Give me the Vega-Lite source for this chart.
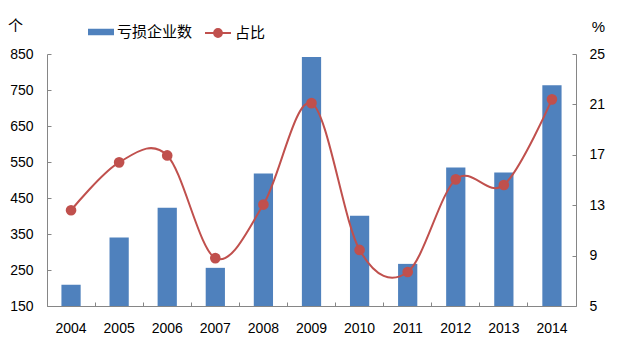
{
  "$schema": "https://vega.github.io/schema/vega-lite/v6.json",
  "width": 529,
  "height": 252,
  "autosize": {"type": "none"},
  "padding": {"left": 47, "top": 54, "right": 48, "bottom": 51},
  "background": "white",
  "config": {"view": {"stroke": null}},
  "data": {
    "values": [
      {"year": "2004", "count": 209, "pct": 12.6},
      {"year": "2005", "count": 340, "pct": 16.4},
      {"year": "2006", "count": 423, "pct": 16.95},
      {"year": "2007", "count": 256, "pct": 8.8},
      {"year": "2008", "count": 518, "pct": 13.05},
      {"year": "2009", "count": 842, "pct": 21.1},
      {"year": "2010", "count": 401, "pct": 9.45},
      {"year": "2011", "count": 267, "pct": 7.7},
      {"year": "2012", "count": 535, "pct": 15.05},
      {"year": "2013", "count": 521, "pct": 14.6},
      {"year": "2014", "count": 763, "pct": 21.4}
    ]
  },
  "encoding": {
    "x": {
      "field": "year",
      "type": "ordinal",
      "scale": {"paddingInner": 0, "paddingOuter": 0},
      "axis": {
        "title": null,
        "labelAngle": 0,
        "bandPosition": 0,
        "tickSize": -4,
        "labelPadding": 19,
        "domainColor": "#868686",
        "tickColor": "#868686",
        "labelColor": "black",
        "labelFont": "Liberation Sans",
        "labelFontSize": 14
      }
    }
  },
  "layer": [
    {
      "mark": {"type": "bar", "width": {"band": 0.4}},
      "encoding": {
        "y": {
          "field": "count",
          "type": "quantitative",
          "scale": {"domain": [150, 850], "zero": false, "nice": false},
          "axis": {
            "values": [150, 250, 350, 450, 550, 650, 750, 850],
            "grid": false,
            "tickSize": -4,
            "labelPadding": 18,
            "domainColor": "#868686",
            "tickColor": "#868686",
            "labelColor": "black",
            "labelFont": "Liberation Sans",
            "labelFontSize": 14,
            "title": "个",
            "titleAngle": 0,
            "titleX": -32,
            "titleY": -29,
            "titleAlign": "center",
            "titleBaseline": "middle",
            "titleFont": "Noto Sans CJK SC",
            "titleFontSize": 15,
            "titleFontWeight": "normal",
            "titleColor": "black"
          }
        },
        "y2": {"datum": 150},
        "color": {
          "datum": "亏损企业数",
          "scale": {"range": ["#4F81BD"]},
          "legend": {
            "title": null,
            "orient": "none",
            "legendX": 41,
            "legendY": -35,
            "symbolType": "M-1,-0.25H1V0.25H-1Z",
            "symbolSize": 676,
            "symbolStrokeWidth": 0,
            "labelFont": "Noto Sans CJK SC",
            "labelFontSize": 15,
            "labelColor": "black",
            "labelOffset": 3
          }
        }
      }
    },
    {
      "mark": {
        "type": "line",
        "interpolate": "cardinal",
        "strokeWidth": 2,
        "point": {"filled": true, "size": 75, "color": "#C0504D", "opacity": 1}
      },
      "encoding": {
        "y": {
          "field": "pct",
          "type": "quantitative",
          "scale": {"domain": [5, 25], "zero": false, "nice": false},
          "axis": {
            "orient": "right",
            "values": [5, 9, 13, 17, 21, 25],
            "grid": false,
            "tickSize": -4,
            "labelPadding": 17,
            "domainColor": "#868686",
            "tickColor": "#868686",
            "labelColor": "black",
            "labelFont": "Liberation Sans",
            "labelFontSize": 14,
            "title": "%",
            "titleAngle": 0,
            "titleX": 22,
            "titleY": -28,
            "titleAlign": "center",
            "titleBaseline": "middle",
            "titleFont": "Liberation Sans",
            "titleFontSize": 15,
            "titleFontWeight": "normal",
            "titleColor": "black"
          }
        },
        "stroke": {
          "datum": "占比",
          "scale": {"range": ["#C0504D"]},
          "legend": {
            "title": null,
            "orient": "none",
            "legendX": 157,
            "legendY": -35,
            "symbolType": "M-1,0H1M-0.3,0A0.3,0.3 0 1,1 0.3,0A0.3,0.3 0 1,1 -0.3,0Z",
            "symbolSize": 676,
            "symbolStrokeWidth": 2,
            "symbolFillColor": "#C0504D",
            "labelFont": "Noto Sans CJK SC",
            "labelFontSize": 15,
            "labelColor": "black",
            "labelOffset": 3
          }
        }
      }
    }
  ],
  "resolve": {"scale": {"y": "independent"}}
}
